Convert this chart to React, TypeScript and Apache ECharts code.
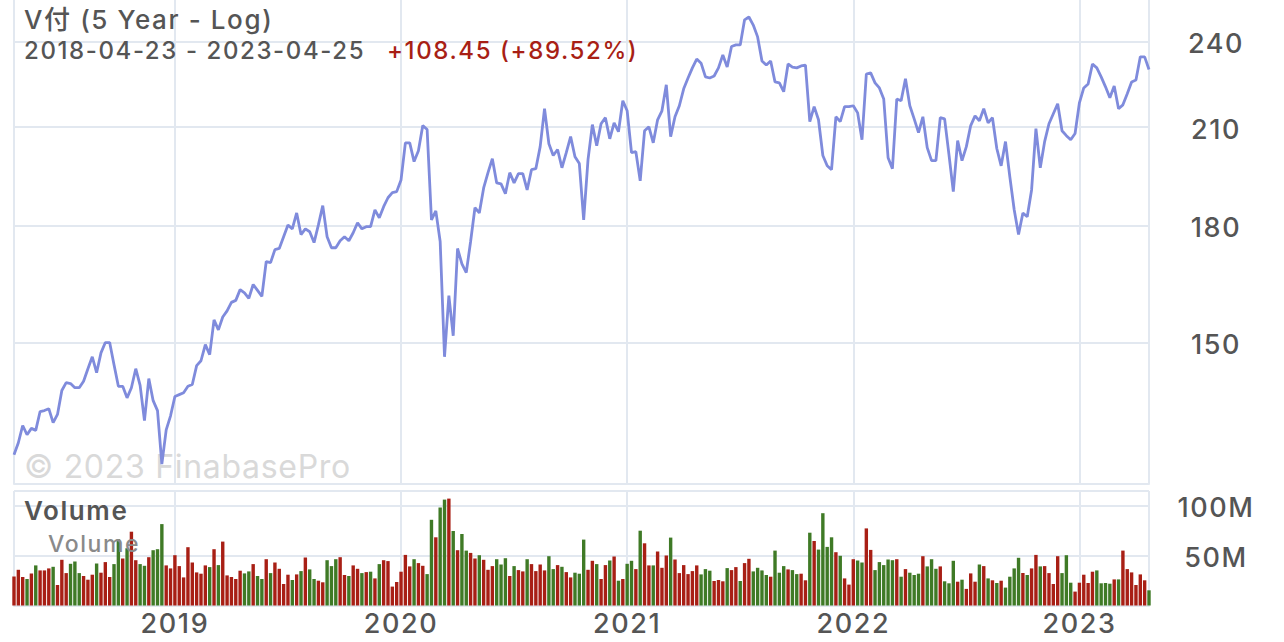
import { useEffect, useRef } from 'react';
import * as echarts from 'echarts';

const START_DATE = '2018-04-23';
const WEEK_MS = 7 * 24 * 3600 * 1000;

// weekly closes
const closes = [
  126.0, 128.4, 131.9, 130.0, 131.3, 130.9, 134.8, 135.0, 135.4, 132.5,
  134.2, 139.3, 141.0, 140.8, 139.9, 139.9, 141.3, 144.1, 146.8, 143.2,
  147.7, 150.1, 150.1, 145.0, 140.2, 140.2, 137.7, 139.9, 144.1, 140.4,
  132.9, 141.9, 137.1, 135.0, 124.2, 131.0, 133.9, 138.0, 138.4, 138.8,
  140.2, 140.6, 144.8, 145.9, 149.6, 147.3, 155.5, 153.1, 156.2, 157.7,
  159.8, 160.3, 163.0, 162.2, 160.8, 164.3, 162.8, 161.3, 170.3, 170.0,
  173.5, 173.8, 177.0, 180.3, 179.2, 183.7, 177.6, 179.2, 178.4, 175.4,
  180.3, 185.8, 177.0, 174.0, 174.0, 175.9, 177.0, 175.9, 178.1, 180.9,
  179.2, 179.8, 179.8, 184.6, 182.3, 185.5, 188.1, 189.6, 189.9, 193.4,
  204.9, 204.9, 199.0, 202.4, 210.5, 209.2, 181.7, 184.3, 175.7, 146.8,
  161.5, 151.7, 173.8, 169.7, 167.4, 175.7, 185.2, 183.7, 191.0, 195.6,
  199.9, 192.5, 192.2, 189.3, 195.6, 192.5, 195.3, 195.3, 190.4, 196.5,
  196.8, 203.7, 216.1, 204.6, 200.9, 202.8, 197.1, 201.8, 206.9, 200.5,
  198.4, 181.7, 199.6, 210.8, 204.0, 211.1, 213.1, 206.2, 211.4, 208.5,
  218.8, 215.4, 201.8, 202.1, 193.1, 208.8, 210.1, 204.9, 212.4, 215.4,
  224.3, 206.9, 213.4, 217.1, 222.9, 226.7, 230.3, 233.5, 232.0, 227.1,
  226.7, 227.4, 230.3, 235.0, 230.6, 238.1, 238.7, 238.7, 248.2, 249.3,
  246.2, 241.7, 232.8, 231.3, 232.8, 225.3, 225.0, 221.9, 231.7, 230.6,
  230.3, 231.0, 231.3, 211.8, 216.8, 212.4, 200.9, 197.7, 196.5, 213.4,
  211.8, 216.8, 216.8, 217.1, 214.7, 205.9, 228.1, 228.5, 225.0, 223.2,
  219.4, 200.2, 196.8, 219.4, 218.8, 226.4, 217.1, 212.7, 208.2, 213.4,
  203.4, 199.3, 199.3, 213.1, 212.7, 201.2, 189.9, 205.6, 199.3, 203.7,
  210.5, 213.7, 212.1, 216.1, 211.4, 213.1, 203.1, 197.7, 205.3, 194.3,
  184.6, 177.6, 183.7, 182.6, 190.4, 209.5, 197.1, 205.3, 211.1, 214.4,
  217.8, 208.8, 207.2, 205.9, 207.9, 218.1, 223.2, 224.6, 231.7, 230.3,
  227.1, 223.6, 219.8, 223.9, 216.1, 217.4, 221.2, 225.3, 226.0, 234.3,
  234.3, 229.7,
];

// weekly volume in millions
const volumes = [
  29.1, 35.7, 28.5, 26.5, 32.1, 40.1, 35.1, 35.1, 37.1, 38.7,
  20.5, 45.7, 32.4, 41.7, 44.0, 32.4, 29.5, 25.8, 30.8, 42.0,
  32.8, 43.4, 28.5, 41.4, 66.2, 47.0, 57.3, 73.8, 45.3, 41.4,
  39.7, 48.3, 55.3, 56.3, 81.4, 40.1, 37.1, 50.3, 39.4, 28.1,
  58.3, 43.0, 33.1, 31.8, 40.1, 38.4, 56.3, 40.4, 63.9, 30.1,
  28.5, 26.5, 34.8, 32.1, 34.1, 41.4, 29.5, 26.5, 46.3, 32.4,
  43.0, 36.7, 21.5, 30.8, 25.5, 31.1, 34.4, 48.0, 36.1, 26.5,
  24.8, 23.2, 45.3, 39.4, 46.3, 48.3, 30.5, 29.5, 40.1, 36.7,
  32.4, 33.4, 33.8, 27.1, 41.4, 45.3, 44.4, 18.9, 23.5, 33.8,
  50.6, 39.1, 46.3, 42.4, 39.7, 31.4, 85.7, 68.2, 98.0, 105.9,
  106.9, 74.5, 55.3, 71.5, 54.9, 52.6, 47.0, 50.3, 45.7, 35.7,
  39.4, 46.3, 41.0, 47.3, 29.5, 39.4, 35.4, 34.1, 46.3, 41.4,
  34.4, 41.0, 35.1, 49.3, 36.4, 40.4, 38.7, 33.4, 28.1, 32.8,
  31.8, 65.9, 35.7, 44.7, 41.4, 26.5, 40.4, 45.0, 49.0, 24.8,
  26.5, 41.7, 44.7, 36.4, 74.8, 62.2, 40.1, 40.1, 54.0, 37.7,
  50.0, 67.9, 46.0, 32.4, 40.4, 31.4, 34.4, 40.1, 31.1, 36.4,
  34.8, 24.5, 25.5, 24.2, 37.4, 35.4, 38.4, 24.5, 42.4, 46.7,
  34.1, 37.7, 35.1, 30.5, 28.8, 54.9, 32.8, 39.4, 36.1, 35.4,
  31.4, 31.8, 25.2, 72.8, 64.5, 55.9, 92.3, 58.6, 68.2, 53.3,
  49.7, 27.1, 20.9, 46.3, 45.0, 43.0, 77.1, 55.6, 35.4, 43.4,
  40.4, 46.0, 45.3, 46.3, 28.8, 36.4, 32.8, 30.5, 31.8, 49.3,
  39.1, 46.3, 36.7, 39.1, 24.2, 22.2, 44.7, 23.8, 25.8, 16.6,
  32.1, 23.8, 41.0, 39.4, 27.1, 25.2, 22.5, 24.8, 17.9, 28.8,
  37.1, 47.7, 32.4, 30.5, 37.1, 50.6, 39.1, 39.4, 32.4, 21.5,
  49.3, 32.4, 50.3, 22.8, 13.9, 22.8, 30.8, 22.5, 33.8, 35.1,
  22.2, 22.5, 21.8, 26.1, 26.1, 54.9, 36.4, 33.1, 20.5, 31.1,
  25.2, 15.2,
];

// r = red bar, g = green bar, ten weeks to a chunk
const volumeColors = [
  'rrrgrgrrrg', 'rrrgggrrrg', 'rrrggrgrrg', 'grgggrrrrr', 'rrrrrgrgrr',
  'rrrggrggrg', 'rrrrgrgrgg', 'rrgggrrgrr', 'grgrgrrrrr', 'rrgrrggrgg',
  'rgrggrrgrr', 'rgggrgrrgr', 'rrrggrgrrg', 'ggrrgrrgrg', 'rggrgrrgrr',
  'rgrrrrrrgg', 'grrrgrrgrr', 'ggggrgggrg', 'grrgrggggr', 'grrrggrrgg',
  'gggrgrgggr', 'gggrgggrgr', 'rrgrgrgrgg', 'ggrgrrgrrr', 'rgggrrrrrg',
  'gggrgrrrrrrg',
].join('');

const yearTicks: Record<number, string> = {
  37: '2019',
  89: '2020',
  141: '2021',
  193: '2022',
  245: '2023',
};
const priceTicks = [150, 180, 210, 240];

const weeks = closes.map((_, i) =>
  new Date(Date.parse(START_DATE) + i * WEEK_MS).toISOString().slice(0, 10),
);

const GRID_LINE = '#e2e8f0';
const TEXT = '#555555';
const RED = '#a81f15';
const GREEN = '#3f7a26';
const WATERMARK = '#d9d9d9';
const FONT = 'Inter, "Noto Sans CJK SC", sans-serif';

// the reference text runs wider than Inter, ECharts has no letter spacing option
const TEXT_CSS = `svg text{letter-spacing:1.6px}svg text[fill="${WATERMARK}"]{letter-spacing:.7px}`;

const isVerticalLine = (i: number) => i === 0 || i === weeks.length - 1 || i in yearTicks;

const label = (x: number, y: number, text: string, size: number, fill: string, z = 10, weight = 500) => ({
  type: 'text',
  x,
  y,
  z,
  style: { text, fill, fontSize: size, fontFamily: FONT, fontWeight: weight, textVerticalAlign: 'middle' },
});

export default function App() {
  const el = useRef<HTMLDivElement>(null);

  useEffect(() => {
    if (!el.current) return;
    const chart = echarts.init(el.current, undefined, { renderer: 'svg' });
    chart.setOption({
      animation: false,
      backgroundColor: '#fff',
      graphic: [
        label(24, 19, 'V付 (5 Year - Log)', 26, TEXT),
        label(24, 50, '2018-04-23 - 2023-04-25', 24, TEXT),
        label(387, 50, '+108.45 (+89.52%)', 24, RED),
        label(24, 466, '© 2023 FinabasePro', 32, WATERMARK, 1, 400),
        label(24, 510, 'Volume', 26, TEXT, 10, 600),
        label(48, 544, 'Volume', 23, '#8a8a8a'),
      ],
      grid: [
        { left: 14, right: 135, top: 0, height: 484 },
        { left: 14, right: 135, top: 491, height: 114.5 },
      ],
      xAxis: [0, 1].map((gridIndex) => ({
        type: 'category',
        gridIndex,
        data: weeks,
        boundaryGap: false,
        axisLine: { lineStyle: { color: GRID_LINE, width: 2 } },
        axisTick: { show: false },
        splitLine: {
          show: true,
          interval: (i: number) => isVerticalLine(i),
          lineStyle: { color: GRID_LINE, width: 2 },
        },
        axisLabel: {
          show: gridIndex === 1,
          interval: (i: number) => i in yearTicks,
          formatter: (_: string, i: number) => yearTicks[i] ?? '',
          color: TEXT,
          fontSize: 27,
          fontWeight: 500,
          fontFamily: FONT,
          margin: 4,
        },
      })),
      yAxis: [
        {
          type: 'log',
          gridIndex: 0,
          position: 'right',
          min: 120.4,
          max: 256,
          axisLine: { show: false },
          axisTick: { show: false, customValues: priceTicks },
          splitLine: { show: true, lineStyle: { color: GRID_LINE, width: 2 } },
          axisLabel: {
            customValues: priceTicks,
            color: TEXT,
            fontSize: 27,
            fontWeight: 500,
            fontFamily: FONT,
            margin: 67,
            align: 'center',
            verticalAlign: 'top',
            lineHeight: 4,
          },
        },
        {
          type: 'value',
          gridIndex: 1,
          position: 'right',
          min: 0,
          max: 114.5,
          interval: 50,
          axisLine: { show: false },
          axisTick: { show: false },
          splitLine: { show: true, lineStyle: { color: GRID_LINE, width: 2 } },
          axisLabel: {
            formatter: (v: number) => (v === 50 || v === 100 ? `${v}M` : ''),
            color: TEXT,
            fontSize: 27,
            fontWeight: 500,
            fontFamily: FONT,
            margin: 67,
            align: 'center',
            verticalAlign: 'top',
            lineHeight: 4,
          },
        },
      ],
      series: [
        {
          type: 'line',
          data: closes,
          xAxisIndex: 0,
          yAxisIndex: 0,
          showSymbol: false,
          lineStyle: { color: '#7f8bdc', width: 2.8 },
        },
        {
          type: 'bar',
          xAxisIndex: 1,
          yAxisIndex: 1,
          barWidth: 3.4,
          clip: false,
          data: volumes.map((value, i) => ({
            value,
            itemStyle: { color: volumeColors[i] === 'g' ? GREEN : RED },
          })),
        },
      ],
    });
    return () => chart.dispose();
  }, []);

  return (
    <>
      <style>{TEXT_CSS}</style>
      <div ref={el} style={{ position: 'absolute', left: 0, top: 0, width: 1284, height: 642 }} />
    </>
  );
}
